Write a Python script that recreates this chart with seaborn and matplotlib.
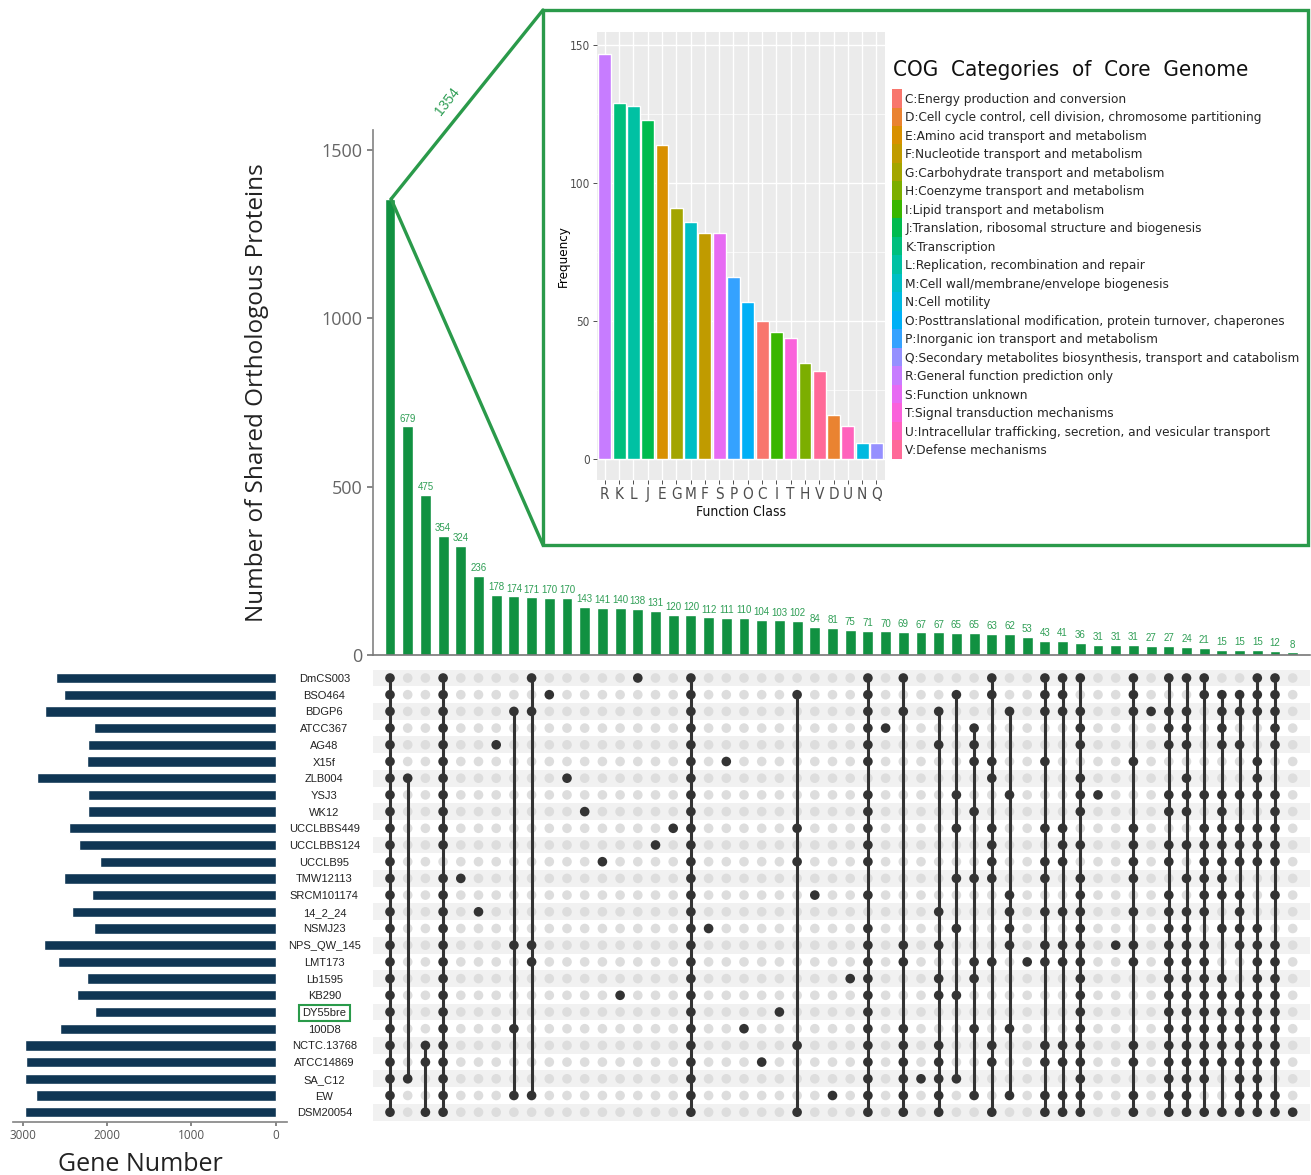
import numpy as np
import pandas as pd
import matplotlib
matplotlib.use("Agg")
import matplotlib.pyplot as plt
import seaborn as sns
from matplotlib.patches import Rectangle, ConnectionPatch, Patch
from matplotlib import font_manager
from matplotlib.font_manager import FontProperties

# ---------------- data ----------------
set_names = ["DmCS003", "BSO464", "BDGP6", "ATCC367", "AG48", "X15f", "ZLB004", "YSJ3", "WK12",
             "UCCLBBS449", "UCCLBBS124", "UCCLB95", "TMW12113", "SRCM101174", "14_2_24", "NSMJ23",
             "NPS_QW_145", "LMT173", "Lb1595", "KB290", "DY55bre", "100D8", "NCTC.13768",
             "ATCC14869", "SA_C12", "EW", "DSM20054"]
set_sizes = [2600, 2510, 2740, 2150, 2230, 2235, 2830, 2230, 2230, 2450, 2330, 2080, 2510, 2180,
             2410, 2160, 2750, 2585, 2235, 2355, 2140, 2560, 2970, 2955, 2975, 2845, 2975]

inter_sizes = [1354, 679, 475, 354, 324, 236, 178, 174, 171, 170, 170, 143, 141, 140, 138, 131,
               120, 120, 112, 111, 110, 104, 103, 102, 84, 81, 75, 71, 70, 69, 67, 67, 65, 65, 63,
               62, 53, 43, 41, 36, 31, 31, 31, 27, 27, 24, 21, 15, 15, 15, 12, 8]

ALL = list(range(27))
inter_members = [
    ALL, [6, 24], [22, 23, 26],
    [0, 1, 2, 3, 4, 5, 6, 7, 8, 9, 10, 12, 13, 14, 15, 16, 17, 18, 19, 20, 21, 22, 23, 24, 25, 26],
    [12], [14], [4], [2, 16, 21, 25], [0, 2, 16, 17, 25], [1],
    [6], [8], [11], [19], [0], [10], [9], ALL, [15], [5], [21], [23], [20],
    [1, 9, 11, 22, 26], [13], [25], [18],
    [0, 1, 2, 3, 4, 5, 7, 8, 9, 10, 11, 13, 15, 16, 17, 18, 19, 20, 21, 22, 23, 24, 25, 26],
    [3],
    [0, 2, 16, 17, 21, 22, 23, 24, 25, 26],
    [24],
    [2, 4, 14, 16, 18, 19, 22, 23, 24, 25, 26],
    [1, 7, 9, 12, 15, 19, 24],
    [3, 4, 5, 8, 12, 17, 18, 21, 25],
    [0, 1, 5, 6, 9, 10, 11, 12, 17, 22, 23, 26],
    [2, 7, 13, 14, 15, 16, 21, 25],
    [17],
    [0, 1, 2, 5, 9, 11, 12, 14, 16, 17, 22, 23, 25, 26],
    [0, 1, 2, 9, 10, 11, 14, 16, 17, 22, 23, 25, 26],
    [0, 2, 3, 4, 6, 7, 8, 10, 12, 13, 14, 15, 16, 17, 18, 19, 20, 21, 22, 23, 24, 25, 26],
    [7], [16],
    [0, 1, 2, 5, 9, 10, 11, 12, 14, 16, 17, 22, 23, 25, 26],
    [2],
    [0, 2, 3, 4, 7, 8, 10, 11, 13, 14, 15, 16, 17, 18, 19, 20, 21, 22, 23, 24, 25, 26],
    [0, 2, 3, 4, 6, 7, 8, 10, 12, 14, 15, 16, 17, 18, 19, 20, 21, 22, 23, 24, 25, 26],
    [0, 1, 7, 9, 10, 11, 12, 13, 14, 16, 17, 18, 19, 20, 21, 22, 23, 24, 26],
    [1, 2, 3, 4, 7, 8, 9, 10, 11, 12, 13, 15, 18, 19, 20, 21, 22, 23, 26],
    [1, 2, 4, 7, 9, 10, 11, 13, 14, 15, 16, 19, 20, 21, 22, 23, 24, 25, 26],
    [0, 1, 2, 5, 6, 7, 9, 10, 11, 15, 16, 17, 18, 19, 20, 21, 22, 23, 24, 25, 26],
    [0, 1, 2, 3, 4, 7, 8, 9, 10, 11, 13, 16, 17, 18, 19, 20, 21, 22, 23, 25, 26],
    [26],
]

cog_letters = ["R", "K", "L", "J", "E", "G", "M", "F", "S", "P", "O", "C", "I", "T", "H", "V",
               "D", "U", "N", "Q"]
cog_freq = [147, 129, 128, 123, 114, 91, 86, 82, 82, 66, 57, 50, 46, 44, 35, 32, 16, 12, 6, 6]
cog_title = "COG  Categories  of  Core  Genome"
cog_legend = [
    "C:Energy production and conversion",
    "D:Cell cycle control, cell division, chromosome partitioning",
    "E:Amino acid transport and metabolism",
    "F:Nucleotide transport and metabolism",
    "G:Carbohydrate transport and metabolism",
    "H:Coenzyme transport and metabolism",
    "I:Lipid transport and metabolism",
    "J:Translation, ribosomal structure and biogenesis",
    "K:Transcription",
    "L:Replication, recombination and repair",
    "M:Cell wall/membrane/envelope biogenesis",
    "N:Cell motility",
    "O:Posttranslational modification, protein turnover, chaperones",
    "P:Inorganic ion transport and metabolism",
    "Q:Secondary metabolites biosynthesis, transport and catabolism",
    "R:General function prediction only",
    "S:Function unknown",
    "T:Signal transduction mechanisms",
    "U:Intracellular trafficking, secretion, and vesicular transport",
    "V:Defense mechanisms",
]

# ---------------- style ----------------
sns.set_theme(style="white")
plt.rcParams["font.family"] = ["Liberation Sans", "DejaVu Sans"]
names = {f.name for f in font_manager.fontManager.ttflist}
big = "Open Sans" if "Open Sans" in names else "DejaVu Sans"

# look for a condensed / narrow sans face (like the reference ggplot text)
narrow_file = None
for f in font_manager.fontManager.ttflist:
    fn = f.fname.lower()
    if any(k in fn for k in ("bold", "italic", "oblique", "mono", "serif", "light")):
        continue
    if "narrow" in fn or "condensed" in fn or f.stretch in ("condensed", "semi-condensed"):
        narrow_file = f.fname
        break


def nprop(size):
    if narrow_file:
        return FontProperties(fname=narrow_file, size=size)
    return FontProperties(family="Liberation Sans", size=size)


GREEN_BAR = "#119141"
GREEN_TXT = "#2f9e55"
GREEN_BOX = "#2a9a4a"
NAVY = "#0f3654"
DARK = "#333333"
LIGHT = "#dddddd"


def hue_pal(n, l=65, c=100):
    hs = np.linspace(15, 375, n + 1)[:n]
    out = []
    Xn, Yn, Zn = 95.047, 100.0, 108.883
    un = 4 * Xn / (Xn + 15 * Yn + 3 * Zn)
    vn = 9 * Yn / (Xn + 15 * Yn + 3 * Zn)
    for h in hs:
        u = c * np.cos(np.radians(h))
        v = c * np.sin(np.radians(h))
        Y = Yn * ((l + 16) / 116) ** 3
        up = u / (13 * l) + un
        vp = v / (13 * l) + vn
        X = 9 * Y * up / (4 * vp)
        Z = -X / 3 - 5 * Y + 3 * Y / vp
        X, Y, Z = X / 100, Y / 100, Z / 100
        r = 3.240479 * X - 1.537150 * Y - 0.498535 * Z
        g = -0.969256 * X + 1.875992 * Y + 0.041556 * Z
        b = 0.055648 * X - 0.204043 * Y + 1.057311 * Z
        rgb = []
        for ch in (r, g, b):
            ch = 12.92 * ch if ch <= 0.0031308 else 1.055 * ch ** (1 / 2.4) - 0.055
            rgb.append(min(max(ch, 0), 1))
        out.append(tuple(rgb))
    return out


legend_letters = [s.split(":")[0] for s in cog_legend]
pal = dict(zip(legend_letters, hue_pal(len(legend_letters))))

W, H = 1311, 1175
fig = plt.figure(figsize=(W / 100, H / 100), dpi=100)
renderer = fig.canvas.get_renderer()


def fit_size(s, target_px, base=10.0):
    t = fig.text(0, 0, s, fontproperties=nprop(base))
    w = t.get_window_extent(renderer).width
    t.remove()
    return base * target_px / w


def fax(l, t, r, b):
    return fig.add_axes([l / W, 1 - b / H, (r - l) / W, (b - t) / H])


n_int = len(inter_sizes)
n_set = len(set_names)
col_x0, col_dx = 390, 17.7
xlim = ((373 - col_x0) / col_dx, (1310 - col_x0) / col_dx)
row_y0, row_dy = 678, 16.7
ylim_rows = ((1122 - row_y0) / row_dy, (668 - row_y0) / row_dy)

# ---------------- top bars ----------------
ax_top = fax(373, 130, 1310, 655)
df_int = pd.DataFrame({"idx": np.arange(n_int), "size": inter_sizes})
sns.barplot(data=df_int, x="idx", y="size", color=GREEN_BAR, width=0.62, ax=ax_top,
            saturation=1, native_scale=True)
ax_top.set_xlim(*xlim)
ax_top.set_ylim(0, 1559)
ax_top.bar_label(ax_top.containers[0], labels=[""] + [str(v) for v in inter_sizes[1:]],
                 padding=2, fontsize=7, color=GREEN_TXT)
ax_top.set_xticks([])
ax_top.set_xlabel("")
ax_top.set_yticks([0, 500, 1000, 1500])
ax_top.tick_params(axis="y", length=4, color="#777777", labelsize=13, labelcolor="#666666",
                   left=True)
for t in ax_top.get_yticklabels():
    t.set_fontfamily(big)
ax_top.set_ylabel("Number of Shared Orthologous Proteins", fontsize=17.5, family=big,
                  color="#222222", labelpad=38)
for s in ["top", "right"]:
    ax_top.spines[s].set_visible(False)
ax_top.spines["left"].set_color("#888888")
ax_top.spines["bottom"].set_color("#777777")
ax_top.spines["bottom"].set_linewidth(1.2)

# ---------------- matrix ----------------
ax_mat = fax(373, 668, 1310, 1122)
rows = []
for ci, mem in enumerate(inter_members):
    for ri in range(n_set):
        rows.append({"col": ci, "row": ri, "present": ri in mem})
df_dot = pd.DataFrame(rows)
for ri in range(0, n_set, 2):
    ax_mat.axhspan(ri - 0.5, ri + 0.5, color="#f1f1f1", zorder=0, lw=0)
sns.scatterplot(data=df_dot[~df_dot.present], x="col", y="row", color=LIGHT, s=48,
                edgecolor="none", ax=ax_mat, zorder=2)
for ci, mem in enumerate(inter_members):
    if len(mem) > 1:
        ax_mat.vlines(ci, min(mem), max(mem), color=DARK, lw=2.2, zorder=3)
sns.scatterplot(data=df_dot[df_dot.present], x="col", y="row", color=DARK, s=48,
                edgecolor="none", ax=ax_mat, zorder=4)
ax_mat.set_xlim(*xlim)
ax_mat.set_ylim(*ylim_rows)
ax_mat.set_xticks([])
ax_mat.set_xlabel("")
ax_mat.set_ylabel("")
ax_mat.set_yticks(range(n_set))
ax_mat.set_yticklabels(set_names, fontsize=8, color="#222222")
ax_mat.tick_params(axis="y", length=0, pad=35)
for t in ax_mat.get_yticklabels():
    t.set_horizontalalignment("center")
    if t.get_text() == "DY55bre":
        t.set_bbox(dict(facecolor="none", edgecolor=GREEN_BOX, lw=1.5,
                        boxstyle="square,pad=0.3"))
for s in ax_mat.spines.values():
    s.set_visible(False)

# ---------------- left set-size bars ----------------
ax_left = fax(13, 668, 287, 1122)
df_set = pd.DataFrame({"name": set_names, "size": set_sizes})
sns.barplot(data=df_set, y="name", x="size", order=set_names, color=NAVY, width=0.62,
            orient="h", ax=ax_left, saturation=1)
ax_left.set_xlim(3115, -134)
ax_left.set_ylim(*ylim_rows)
ax_left.set_yticks([])
ax_left.set_ylabel("")
ax_left.set_xticks([3000, 2000, 1000, 0])
ax_left.tick_params(axis="x", length=3, color="#777777", labelsize=8.5, labelcolor="#555555",
                    bottom=True, pad=2)
for t in ax_left.get_xticklabels():
    t.set_fontfamily(big)
ax_left.set_xlabel("Gene Number", fontsize=18, family=big, color="#222222")
ax_left.xaxis.set_label_coords((140 - 13) / 274, -0.066)
for s in ["top", "right", "left"]:
    ax_left.spines[s].set_visible(False)
ax_left.spines["bottom"].set_color("#888888")

# ---------------- inset COG chart ----------------
ax_in = fax(597, 32, 885, 480)
df_cog = pd.DataFrame({"cls": cog_letters, "freq": cog_freq})
sns.barplot(data=df_cog, x="cls", y="freq", hue="cls", order=cog_letters, palette=pal,
            legend=False, width=0.9, ax=ax_in, saturation=1, zorder=3)
ax_in.set_facecolor("#ebebeb")
ax_in.set_xlim(-0.55, len(cog_letters) - 0.4)
ax_in.set_ylim(-7.5, 154.8)
ax_in.set_yticks([0, 50, 100, 150])
ax_in.set_yticks([25, 75, 125], minor=True)
ax_in.grid(True, which="major", color="white", lw=1.0, zorder=0)
ax_in.grid(True, which="minor", axis="y", color="white", lw=0.5, zorder=0)
ax_in.set_axisbelow(True)
for s in ax_in.spines.values():
    s.set_visible(False)
ax_in.tick_params(axis="both", which="major", length=3, color="#333333", width=0.6,
                  left=True, bottom=True, pad=2)
ax_in.tick_params(axis="both", which="minor", length=0)
tick_px = 11 if narrow_file else 9.5
for t in ax_in.get_xticklabels():
    t.set_fontproperties(nprop(tick_px))
    t.set_color("#4d4d4d")
for t in ax_in.get_yticklabels():
    t.set_fontproperties(nprop(8.5))
    t.set_color("#4d4d4d")
ax_in.set_xlabel("Function Class", fontproperties=nprop(fit_size("Function Class", 90)),
                 labelpad=2, color="#111111")
ax_in.set_ylabel("Frequency", fontproperties=nprop(fit_size("Frequency", 62)),
                 labelpad=0, color="#000000")

# legend, text sized to the reference widths
leg_size = fit_size(cog_legend[14], 394)
title_size = fit_size(cog_title, 356)
fs_px = leg_size * 100 / 72
row_px = 18.5
hh = (row_px / fs_px - 0.245) / 0.65
fig.text(893 / W, 1 - 70 / H, cog_title, fontproperties=nprop(title_size), color="#111111",
         ha="left", va="center")
handles = [Patch(facecolor=pal[k], edgecolor="none") for k in legend_letters]
leg = fig.legend(handles, cog_legend, loc="upper left", bbox_to_anchor=(892 / W, 1 - 89 / H),
                 frameon=False, prop=nprop(leg_size), handlelength=10 / fs_px,
                 handleheight=hh, labelspacing=0.0, handletextpad=0.25, borderpad=0.0,
                 borderaxespad=0.0)

# ---------------- zoom box and connectors ----------------
fig.add_artist(Rectangle((543 / W, 1 - 545 / H), (1308 - 543) / W, (545 - 10) / H,
                         transform=fig.transFigure, fill=False, ec=GREEN_BOX, lw=2.4))
first_bar = ax_top.patches[0]
top_pt = (first_bar.get_x() + first_bar.get_width() * 0.6, first_bar.get_height())
for corner in [(543 / W, 1 - 10 / H), (543 / W, 1 - 545 / H)]:
    fig.add_artist(ConnectionPatch(xyA=top_pt, coordsA=ax_top.transData,
                                   xyB=corner, coordsB=fig.transFigure, color=GREEN_BOX,
                                   lw=2.4))
fig.text(447 / W, 1 - 101 / H, str(inter_sizes[0]), rotation=52, color=GREEN_TXT, fontsize=10,
         ha="center", va="center")

fig.savefig("out.png", dpi=100)
